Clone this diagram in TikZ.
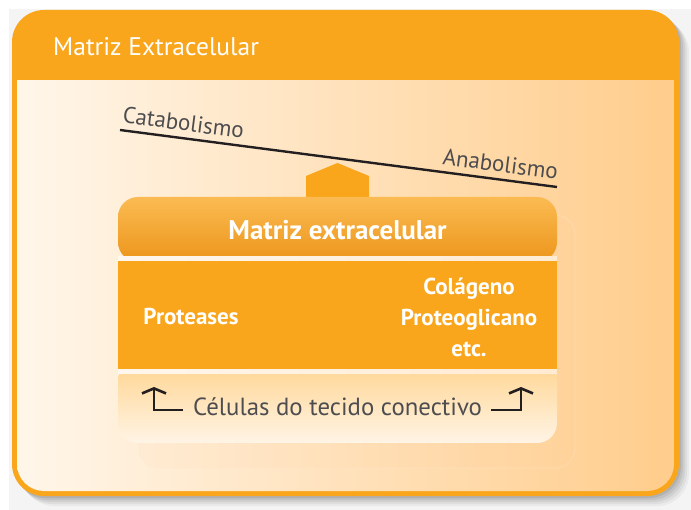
\documentclass[tikz,border=0pt]{standalone}
\usepackage{fontspec}
\setmainfont{PT Sans}
\usetikzlibrary{arrows.meta}
\definecolor{mango}{HTML}{F9A61C}
\definecolor{bggray}{HTML}{F4F4F4}
\definecolor{cream}{HTML}{FFF6EA}
\definecolor{peach}{HTML}{FFCD8C}
\definecolor{titletop}{HTML}{FBBB52}
\definecolor{titlebot}{HTML}{EC951A}
\definecolor{lowtop}{HTML}{FFD48E}
\definecolor{lowbot}{HTML}{FFF4E6}
\definecolor{txtgray}{HTML}{4D4D4F}
\definecolor{inkline}{HTML}{231F20}
\tikzset{
  hdrtext/.style={text=white, font=\fontsize{25.5}{30}\selectfont, inner sep=0pt},
  slopetext/.style={text=txtgray, font=\fontsize{23}{26}\selectfont, sloped, inner xsep=0pt, inner ysep=6pt},
  whitetext/.style={text=white, font=\bfseries\fontsize{23}{31}\selectfont, inner sep=0pt, align=center},
  titletext/.style={text=white, font=\bfseries\fontsize{27}{30}\selectfont, inner sep=0pt},
  celltext/.style={text=txtgray, font=\fontsize{24.8}{28}\selectfont, inner sep=0pt},
  bendarrow/.style={draw=inkline, line width=2.6pt, -{Straight Barb[length=5pt,width=24pt]}},
  beam/.style={draw=inkline, line width=2.4pt}
}
\begin{document}
\begin{tikzpicture}[x=1pt,y=-1pt]
\useasboundingbox (0,0) rectangle (691,510);
\fill[white] (0,0) rectangle (691,510);
\fill[bggray] (9,9) rectangle (691,510);
% outer shadow
\foreach \d/\o in {10/0.04,8/0.05,6/0.06,4/0.07,2/0.08}
  \fill[black,opacity=\o,rounded corners=32pt] (12+\d,10+\d) rectangle (679+\d,496+\d);
% outer box
\fill[mango,rounded corners=32pt] (12,10) rectangle (679,496);
\begin{scope}
  \clip (17,81) rectangle (674,491);
  \shade[left color=cream,right color=peach,rounded corners=27pt] (17,20) rectangle (674,491);
\end{scope}
\node[hdrtext, anchor=west] (hdr) at (53,47) {Matriz Extracelular};
% seesaw
\coordinate (L1) at (120,130);
\coordinate (L2) at (557,187);
\fill[mango] (306,205) -- (306,176) -- (337.5,163) -- (369,176) -- (369,205) -- cycle;
\draw[beam] (L1) -- node[slopetext, pos=0, anchor=south west] (cat) {Catabolismo}
  node[slopetext, pos=1, anchor=south east] (ana) {Anabolismo} (L2);
% ghost box behind
\fill[orange!40,opacity=0.08,rounded corners=20pt] (139,215) rectangle (575,468);
\draw[orange!20!white,opacity=0.5,line width=0.6pt,rounded corners=20pt] (139,215) rectangle (575,468);
% gaps
\fill[white,opacity=0.55] (118,256) rectangle (557,375);
% title band
\begin{scope}
  \clip (118,197) rectangle (557,256);
  \shade[top color=titletop,bottom color=titlebot,rounded corners=20pt] (118,197) rectangle (557,262);
\end{scope}
\node[titletext] (title) at (337.5,230) {Matriz extracelular};
% main band
\fill[mango] (118,261) rectangle (557,369);
\node[whitetext] (prot) at (191,316) {Proteases};
\node[whitetext] (col) at (469,317) {Colágeno\\Proteoglicano\\etc.};
% lower band
\begin{scope}
  \clip (118,375) rectangle (557,443);
  \shade[top color=lowtop,bottom color=lowbot,rounded corners=20pt] (118,360) rectangle (557,443);
\end{scope}
\node[celltext] (cel) at (337.5,407) {Células do tecido conectivo};
\coordinate (a1) at (183,410);
\coordinate (a2) at (154,410);
\coordinate (a3) at (154,387);
\coordinate (b1) at (491,410);
\coordinate (b2) at (521,410);
\coordinate (b3) at (521,387);
\draw[bendarrow] (a1) -- (a2) -- (a3);
\draw[bendarrow] (b1) -- (b2) -- (b3);
\end{tikzpicture}
\end{document}
